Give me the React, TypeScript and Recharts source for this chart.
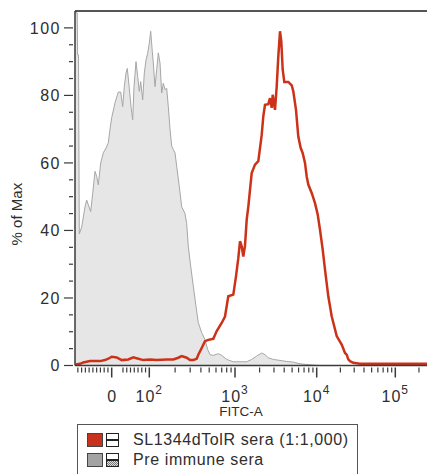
import React from 'react';
import { ComposedChart, Area, Line, XAxis, YAxis, ReferenceLine } from 'recharts';

// Display positions (biexponential display units) and % of Max values
const preImmuneX = [0, 2.2, 2.6, 3.5, 4.3, 6.7, 10, 11.7, 13.3, 15.7, 17.7, 20, 21.7, 23.3, 25.7, 28.3, 31, 33.3, 35, 36.7, 40, 43.3, 45.7, 47.7, 49.3, 51, 52.3, 54.3, 56, 57.7, 59, 61, 62.7, 64.3, 65.7, 67.7, 69.3, 71, 72.7, 74.3, 75.7, 77.3, 78.3, 80, 81.7, 83.3, 85, 86.7, 88.3, 90, 91.7, 93.3, 95, 96.7, 98.3, 100, 101.7, 104.3, 106.7, 110, 111.7, 113.3, 115.7, 118.3, 121, 123.3, 126.7, 130, 132.7, 135, 138.3, 143.3, 146.7, 151.7, 158.3, 165, 171.7, 176.7, 181.7, 186.7, 190, 193.3, 198.3, 205, 211.7, 218.3, 225, 235, 245, 352];
const preImmuneY = [104.5, 104.5, 92, 92, 39, 41, 47, 49, 47.6, 45.6, 51, 57.5, 56, 53.5, 60, 63, 64.4, 66, 70, 73.4, 77.8, 81, 81, 76.7, 82.6, 86.6, 88, 82.1, 76.7, 72.8, 82.6, 90, 85.6, 81.2, 84.1, 78.7, 86.6, 90.5, 92.5, 95.5, 99, 93, 89.6, 82.6, 87.6, 92.6, 89.6, 80.7, 83.6, 81.7, 82.1, 76.7, 70, 65, 64, 63, 59, 53, 47, 45, 42, 35.3, 29.4, 23.5, 17.5, 12.7, 9.7, 7.7, 4.7, 3.2, 3, 3.5, 3, 1.8, 1.1, 1.1, 1.1, 1.8, 2.8, 3.7, 3.2, 2.3, 1.8, 1.5, 1.2, 1, 0.5, 0.2, 0, 0];

const sl1344X = [0.5, 5, 8.3, 15, 25, 30, 33.3, 36.7, 41.7, 46.7, 53.3, 58.3, 63.3, 68.3, 75, 81.7, 91.7, 98.3, 103.3, 106.7, 111.7, 115, 118.3, 121.7, 123.3, 126.7, 130, 133.3, 138.3, 141.7, 146.7, 150, 153.3, 158.3, 161, 163.3, 165, 166.7, 168.3, 170, 171.7, 173.3, 175, 176.7, 180, 183.3, 185, 186.7, 188.3, 190, 193.3, 195, 196.7, 197.7, 200, 201.7, 203.3, 205, 206.3, 207.7, 209.3, 213.3, 216.7, 218.3, 221, 223.3, 225.7, 227.7, 230, 231.7, 233.3, 236.7, 240, 242.7, 245, 247.7, 250, 253.3, 256.7, 261.7, 266.7, 270, 271.7, 273.3, 275, 278.3, 285, 352];
const sl1344Y = [0.3, 0.5, 0.9, 1.3, 1.3, 1.6, 2, 2.6, 2.4, 1.6, 1.8, 2.4, 2, 1.6, 1.8, 1.6, 1.8, 1.8, 2.3, 2.8, 2.3, 1.6, 1.6, 2, 3.2, 5.2, 7.2, 7.6, 7.9, 10.2, 12.6, 14.5, 20.5, 21, 26.4, 31.8, 36.8, 35.3, 32.3, 35.5, 43.2, 47, 52, 57, 59.5, 60.5, 64.4, 68.3, 73.8, 77.2, 77.4, 79.2, 76.3, 80.2, 75.7, 82.6, 91.5, 99, 96, 87.6, 84, 84, 83, 81.2, 75.7, 67.8, 64.4, 62.9, 60, 56, 53.6, 51.1, 48.1, 44.7, 40.2, 34.3, 28.4, 20.5, 14.6, 8.7, 6.2, 3.7, 3.2, 1.8, 1.3, 0.8, 0.5, 0.5];

// Axis tick values (FITC-A units)
const majorTicks = [0, 100, 1000, 10000, 100000];
const majorLabels = ['0', '10|2', '10|3', '10|4', '10|5'];
const minorTicks = [-90, -80, -70, -60, -50, -40, -30, -20, -10, 30, 40, 50, 60, 70, 80, 90,
  200, 300, 400, 500, 600, 700, 800, 900,
  2000, 3000, 4000, 5000, 6000, 7000, 8000, 9000,
  20000, 30000, 40000, 50000, 60000, 70000, 80000, 90000, 200000];
const yTicks = [0, 5, 10, 15, 20, 25, 30, 35, 40, 45, 50, 55, 60, 65, 70, 75, 80, 85, 90, 95, 100];

const seriesNames = ['SL1344dTolR sera (1:1,000)', 'Pre immune sera'];
const xTitle = 'FITC-A';
const yTitle = '% of Max';

// biexponential-like display transform: linear near zero, log above 10^2
const LIN_ZERO = 36.7;
const LIN_SLOPE = 0.376;
const decadePos = [74.3, 160, 241.7, 320.3]; // 10^2..10^5
function toDisplay(v: number): number {
  if (v <= 100) return LIN_ZERO + v * LIN_SLOPE;
  const l = Math.log10(v);
  const d = Math.floor(l);
  const f = l - d;
  const i = d - 2;
  if (i >= decadePos.length - 1) return decadePos[decadePos.length - 1] + (l - 5) * 78.6;
  return decadePos[i] + f * (decadePos[i + 1] - decadePos[i]);
}

const preData = preImmuneX.map((x, i) => ({ x, v: preImmuneY[i] }));
const slData = sl1344X.map((x, i) => ({ x, v: sl1344Y[i] }));

const majorPos = majorTicks.map(toDisplay);
const allTickPos = [...majorPos, ...minorTicks.map(toDisplay)];

const FONT = '"Liberation Sans", Arial, sans-serif';
const AXIS = '#3a3a3a';
const TXT = '#2e2e2e';

const XTick = (props: any) => {
  const { x, y, payload } = props;
  const idx = majorPos.findIndex((p) => Math.abs(p - payload.value) < 1e-6);
  const major = idx >= 0;
  const lab = major ? majorLabels[idx] : null;
  return (
    <g>
      <line x1={x} x2={x} y1={y} y2={y + (major ? 10 : 5)} stroke={AXIS} strokeWidth={major ? 1.5 : 1.2} />
      {lab && (lab.includes('|') ? (
        <text x={x} y={y + 34.5} textAnchor="middle" fontFamily={FONT} fontSize={16} fill={TXT} letterSpacing={1}>
          <tspan>{lab.split('|')[0]}</tspan>
          <tspan dy={-8} fontSize={12}>{lab.split('|')[1]}</tspan>
        </text>
      ) : (
        <text x={x} y={y + 34.5} textAnchor="middle" fontFamily={FONT} fontSize={16} fill={TXT}>{lab}</text>
      ))}
    </g>
  );
};

const YTick = (props: any) => {
  const { x, y, payload } = props;
  const major = payload.value % 20 === 0;
  return (
    <g>
      <line x1={x} x2={x - (major ? 9 : 4)} y1={y} y2={y} stroke={AXIS} strokeWidth={1.2} />
      {major && (
        <text x={x - 12} y={y + 5.8} textAnchor="end" fontFamily={FONT} fontSize={16} fill={TXT} letterSpacing={1.5}>
          {payload.value}
        </text>
      )}
    </g>
  );
};

const XTitle = (props: any) => {
  const vb = props.viewBox || { x: 75, y: 365.5, width: 352, height: 50 };
  return (
    <text x={vb.x + 166} y={vb.y + 50} textAnchor="middle" fontFamily={FONT} fontSize={13.5} fill={TXT}>{xTitle}</text>
  );
};

const YTitle = (props: any) => {
  const vb = props.viewBox || { x: 0, y: 11, width: 75, height: 354.5 };
  const cx = vb.x + 22;
  const cy = vb.y + vb.height * 0.573;
  return (
    <text x={cx} y={cy} textAnchor="middle" transform={`rotate(-90 ${cx} ${cy})`} fontFamily={FONT} fontSize={15} fill={TXT}>{yTitle}</text>
  );
};

const Swatch = ({ color }: { color: string }) => (
  <span style={{ display: 'inline-block', width: 16, height: 14, background: color, border: '1px solid #444', boxSizing: 'border-box', marginRight: 3 }} />
);

export default function App() {
  return (
    <div style={{ position: 'absolute', left: 0, top: 0, width: 427, height: 474, overflow: 'hidden', background: '#fff' }}>
      <ComposedChart width={427} height={474} margin={{ top: 11, right: 0, bottom: 58.5, left: 0 }}>
        <XAxis
          dataKey="x"
          type="number"
          domain={[0, 352]}
          allowDataOverflow
          ticks={allTickPos}
          interval={0}
          tick={<XTick />}
          tickLine={false}
          tickSize={0}
          height={50}
          axisLine={{ stroke: AXIS, strokeWidth: 1.5 }}
          label={<XTitle />}
        />
        <YAxis
          type="number"
          domain={[0, 105]}
          allowDataOverflow
          ticks={yTicks}
          interval={0}
          tick={<YTick />}
          tickLine={false}
          tickSize={0}
          width={75}
          axisLine={{ stroke: AXIS, strokeWidth: 1.5 }}
          label={<YTitle />}
        />
        <ReferenceLine y={105} stroke="#555" strokeWidth={2} />
        <Area data={preData} dataKey="v" type="linear" stroke="#a6a6a6" strokeWidth={1} fill="#e6e6e6" fillOpacity={1} isAnimationActive={false} dot={false} activeDot={false} />
        <Line data={slData} dataKey="v" type="linear" stroke="#cc3218" strokeWidth={2.5} isAnimationActive={false} dot={false} activeDot={false} />
      </ComposedChart>
      <div style={{ position: 'absolute', left: 77, top: 424, width: 281, height: 70, border: '1px solid #555', boxSizing: 'border-box', fontFamily: FONT, fontSize: 16, color: TXT }}>
        <div style={{ position: 'absolute', left: 9, top: 7, display: 'flex', alignItems: 'center', height: 15, whiteSpace: 'nowrap' }}>
          <Swatch color="#c8321c" />
          <span style={{ display: 'inline-block', width: 13, height: 14, border: '1px solid #222', boxSizing: 'border-box', background: 'linear-gradient(#fff 0 45%, #222 45% 60%, #fff 60%)', marginRight: 14 }} />
          <span style={{ letterSpacing: 0.6 }}>{seriesNames[0]}</span>
        </div>
        <div style={{ position: 'absolute', left: 9, top: 27, display: 'flex', alignItems: 'center', height: 15, whiteSpace: 'nowrap' }}>
          <Swatch color="#a3a3a3" />
          <span style={{ display: 'inline-block', width: 13, height: 14, border: '1px solid #222', boxSizing: 'border-box', background: 'linear-gradient(#fff 0 45%, #222 45% 55%, transparent 55%), repeating-conic-gradient(#777 0 25%, #ddd 0 50%) 0 0 / 2px 2px', marginRight: 14 }} />
          <span style={{ letterSpacing: 0.6 }}>{seriesNames[1]}</span>
        </div>
      </div>
    </div>
  );
}
